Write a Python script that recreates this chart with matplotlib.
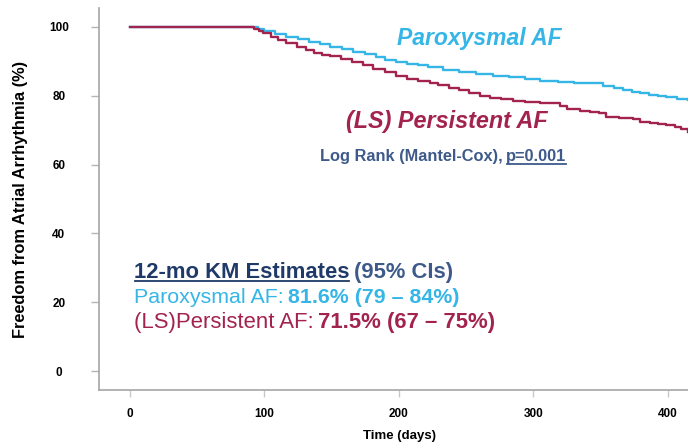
import matplotlib
matplotlib.use("Agg")
import matplotlib.pyplot as plt
from matplotlib.lines import Line2D

# Kaplan-Meier step points (day, % free of AF)
parox_days = [0, 90, 95, 100, 108, 116, 125, 133, 141, 149, 158, 166, 175, 183,
              190, 198, 206, 214, 222, 233, 245, 257, 270, 282, 294, 305, 318,
              330, 342, 352, 360, 367, 373, 379, 386, 393, 399, 407, 415]
parox_vals = [100, 100, 99.5, 98.8, 98.0, 97.2, 96.4, 95.6, 95.0, 94.3, 93.5,
              92.7, 92.0, 91.2, 90.5, 89.9, 89.3, 88.8, 88.3, 87.6, 87.0, 86.4,
              85.8, 85.3, 84.8, 84.3, 84.0, 83.8, 83.6, 82.9, 82.3, 81.7, 81.2,
              80.7, 80.2, 79.8, 79.5, 79.1, 78.8]

pers_days = [0, 88, 92, 96, 99, 105, 110, 116, 124, 131, 137, 143, 149, 157,
             165, 173, 181, 190, 198, 206, 214, 223, 229, 237, 245, 252, 260,
             268, 276, 285, 294, 305, 315, 320, 325, 335, 342, 349, 354, 364,
             374, 379, 387, 393, 399, 405, 410, 415]
pers_vals = [100, 100, 99.4, 98.7, 98.1, 97.2, 96.3, 95.4, 94.3, 93.4, 92.3,
             91.9, 91.4, 90.6, 89.8, 89.0, 87.9, 86.8, 85.6, 84.9, 84.3, 83.6,
             83.0, 82.3, 81.7, 80.9, 80.0, 79.2, 79.0, 78.6, 78.3, 78.0, 77.8,
             76.9, 76.1, 75.7, 75.2, 74.9, 73.7, 73.4, 73.1, 72.5, 72.0, 71.7,
             71.5, 70.8, 70.2, 69.6]

x_ticks = [0, 100, 200, 300, 400]
y_ticks = [0, 20, 40, 60, 80, 100]

CYAN = "#35B6E6"
RED = "#A3234F"
NAVY = "#1F3A68"
SLATE = "#3E5A8A"
SANS = ["Liberation Sans", "DejaVu Sans"]
NARROW = ["Liberation Sans Narrow", "Liberation Sans", "DejaVu Sans"]

fig = plt.figure(figsize=(6.88, 4.48), dpi=100)
ax = fig.add_axes([0.1439, 0.1295, 0.8561, 0.8527])

ax.step(parox_days, parox_vals, where="post", color=CYAN, lw=1.7)
ax.step(pers_days, pers_vals, where="post", color=RED, lw=1.7)

ax.set_xlim(-23, 415)
ax.set_ylim(-5.5, 105.5)
ax.set_xticks(x_ticks)
ax.set_yticks(y_ticks)

for side in ("top", "right"):
    ax.spines[side].set_visible(False)
for side in ("left", "bottom"):
    ax.spines[side].set_color("#A6A6A6")
    ax.spines[side].set_linewidth(1.2)

ax.tick_params(axis="y", length=6, width=1, color="#B5B5B5", pad=23)
ax.tick_params(axis="x", length=5, width=1, color="#C8C8C8", pad=8)
for lab in ax.get_yticklabels():
    lab.set_fontfamily(SANS)
    lab.set_fontweight("bold")
    lab.set_fontsize(8.5)
    lab.set_horizontalalignment("center")
for lab in ax.get_xticklabels():
    lab.set_fontfamily(NARROW)
    lab.set_fontweight("bold")
    lab.set_fontsize(8.5)
    lab.set_fontstretch("condensed")

ax.set_ylabel("Freedom from Atrial Arrhythmia (%)", family=SANS,
              fontweight="bold", fontsize=11.8)
ax.yaxis.set_label_coords(-0.121, 0.5)
ax.set_xlabel("Time (days)", family=NARROW, fontweight="bold", fontsize=9.5,
              fontstretch="condensed")
ax.xaxis.set_label_coords(0.511, -0.105)

# curve labels
ax.text(198.5, 94.8, "Paroxysmal AF", color=CYAN, family=SANS,
        fontweight="bold", style="italic", fontsize=16.5, va="baseline")
ax.text(161, 70.6, "(LS) Persistent AF", color=RED, family=SANS,
        fontweight="bold", style="italic", fontsize=16.8, va="baseline")

renderer = fig.canvas.get_renderer()
underlines = []


def write_line(x, y, pieces, size, gap=0.3):
    """Write (text, color, weight, underline) pieces one after another."""
    px, py = ax.transData.transform((x, y))
    for s, color, weight, ul in pieces:
        t = ax.text(px, py, s, transform=None, color=color, family=SANS,
                    fontweight=weight, fontsize=size, va="baseline")
        bb = t.get_window_extent(renderer)
        if ul:
            underlines.append((bb.x0 + 1, bb.x1, py - 2.5, color))
        px = bb.x1 + size * gap


write_line(141, 61.0, [("Log Rank (Mantel-Cox),", SLATE, "bold", False),
                       ("p=0.001", SLATE, "bold", True)], 11.8)
write_line(3, 27.0, [("12-mo KM Estimates", NAVY, "bold", True),
                     ("(95% CIs)", SLATE, "bold", False)], 15.8)
write_line(3, 19.8, [("Paroxysmal AF:", CYAN, "normal", False),
                     ("81.6% (79 \u2013 84%)", CYAN, "bold", False)], 15.4)
write_line(3, 12.5, [("(LS)Persistent AF:", RED, "normal", False),
                     ("71.5% (67 \u2013 75%)", RED, "bold", False)], 15.9)

inv = fig.transFigure.inverted()
for x0, x1, yy, color in underlines:
    (fx0, fy), (fx1, _) = inv.transform([(x0, yy), (x1, yy)])
    fig.add_artist(Line2D([fx0, fx1], [fy, fy], color=color, lw=1.3))

fig.savefig("out.png", dpi=100)
